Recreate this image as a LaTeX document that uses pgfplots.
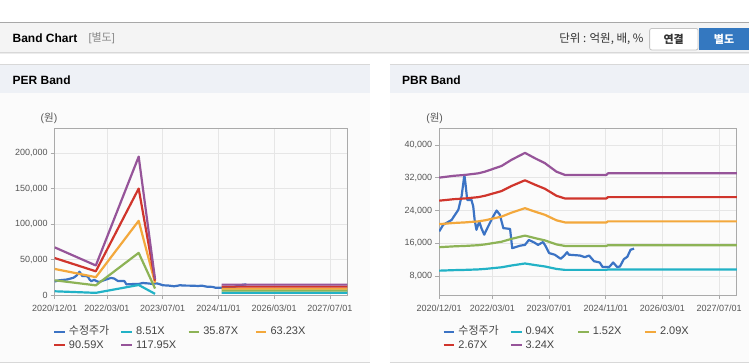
\documentclass[border=0pt]{standalone}
\usepackage{pgfplots}
\usepackage{pgfplotstable}
\pgfplotsset{compat=1.18}
\usepackage{fontspec}
\setmainfont{Liberation Sans}
\newfontfamily\kr{Noto Sans CJK KR}
\definecolor{cblue}{HTML}{3B73C4}
\definecolor{ccyan}{HTML}{22B2C6}
\definecolor{cgreen}{HTML}{8DB356}
\definecolor{corange}{HTML}{F3A83C}
\definecolor{cred}{HTML}{D0352C}
\definecolor{cpurple}{HTML}{965499}
\definecolor{gridc}{HTML}{E6E6E6}
\definecolor{axisc}{HTML}{AAAAAA}
\definecolor{tickt}{HTML}{555555}
\definecolor{legt}{HTML}{444444}
\definecolor{hdrbg}{HTML}{F4F4F4}
\definecolor{hdrline}{HTML}{A8A8A8}
\definecolor{lightline}{HTML}{D8D8D8}
\definecolor{barbg}{HTML}{EEF1F6}
\definecolor{panelbg}{HTML}{FBFBFB}
\definecolor{btnblue}{HTML}{3478C0}
\definecolor{btnborder}{HTML}{C4C4C4}
\definecolor{graytext}{HTML}{888888}
\definecolor{darktext}{HTML}{333333}

\pgfplotstableread{
m v
0 18900
1.1 20500
3.5 21700
5.4 24200
6.3 27400
7.1 32700
7.4 30700
7.9 26600
9.1 26600
9.6 25000
10 21700
10.5 19300
11.3 21300
11.9 19700
12.7 18100
13.8 20100
15.2 22500
16.2 24000
17.1 23000
18.1 19700
20 19500
20.6 14800
22.8 15400
24.2 15600
25.3 16800
26.8 16200
27.9 15600
29.3 16300
30.1 15200
31 13600
32.6 13200
34.3 12200
35.2 12900
36.1 13800
36.6 13200
39.7 13000
41.1 12600
42.3 13000
43.7 11600
45.3 11300
46.1 10200
48 10200
49.1 11300
50.2 10200
51 10300
52.1 12100
53.1 12700
54 14400
55 14700
}\stockdata

\pgfplotsset{
  bandaxis/.style={
    scale only axis, height=167bp,
    xmin=0, xmax=84,
    scaled y ticks=false, scaled x ticks=false,
    xtick={0,15,31,47,63,79},
    xticklabels={2020/12/01,2022/03/01,2023/07/01,2024/11/01,2026/03/01,2027/07/01},
    grid=major, grid style={gridc, line width=0.8bp},
    axis line style={axisc, line width=0.8bp},
    tick style={axisc, line width=0.8bp},
    tick align=outside, major tick length=4bp,
    xtick pos=lower, ytick pos=left,
    ticklabel style={font=\fontsize{9bp}{10bp}\selectfont, text=tickt, inner sep=0pt},
    xticklabel style={yshift=-5.5bp},
    yticklabel style={xshift=-3bp},
    unbounded coords=jump,
    every axis plot/.append style={line width=2.2bp, line join=round},
    legend columns=4,
    legend cell align=left,
    legend image code/.code={\draw[line width=2.2bp] (0bp,0bp) -- (10.6bp,0bp);},
    legend style={draw=none, fill=none, at={(axis description cs:0,0)}, anchor=north west,
      inner sep=0pt, outer sep=0pt, row sep=2.8bp, column sep=0pt,
      font=\fontsize{11bp}{12bp}\selectfont, text=legt,
      nodes={inner sep=0pt, outer sep=0pt, text height=8bp, text depth=2.5bp},
      /tikz/every odd column/.append style={column sep=3bp}},
  }
}
\newcommand{\legbox}[1]{\makebox[51.5bp][l]{#1}}

\begin{document}
\begin{tikzpicture}
\begin{scope}[x=1bp,y=-1bp,shift={(0,-364)}]
  \fill[white] (0,0) rectangle (749,364);
  % header
  \fill[hdrbg] (0,22.5) rectangle (749,52.5);
  \draw[hdrline, line width=1bp] (0,22.5) -- (749,22.5);
  \draw[lightline, line width=1bp] (0,52.5) -- (749,52.5);
  \draw[hdrbg!70!lightline, line width=1bp] (0,53.5) -- (749,53.5);
  \node[anchor=west, inner sep=0pt, font=\fontsize{12bp}{14bp}\selectfont\bfseries] at (12,38.5) {Band Chart};
  \node[anchor=west, inner sep=0pt, text=graytext, font=\fontsize{11bp}{13bp}\selectfont] at (88,38.5) {[{\kr 별도}]};
  \node[anchor=east, inner sep=0pt, text=darktext, font=\fontsize{11.5bp}{13bp}\selectfont] at (644,38.5) {{\kr 단위 : 억원, 배, \%}};
  \filldraw[fill=white, draw=btnborder, line width=0.8bp, rounded corners=2bp] (650,28.5) rectangle (698.5,50);
  \node[inner sep=0pt, text=darktext, font=\fontsize{11bp}{13bp}\selectfont] at (674,39.3) {{\kr\bfseries 연결}};
  \fill[btnblue] (699.5,28.5) rectangle (749,50);
  \node[inner sep=0pt, text=white, font=\fontsize{11bp}{13bp}\selectfont] at (724.5,39.3) {{\kr\bfseries 별도}};
  % PER panel
  \fill[barbg] (0,64.5) rectangle (370,93);
  \draw[lightline, line width=1bp] (0,64.5) -- (370,64.5);
  \fill[panelbg] (0,93) rectangle (370,362);
  \draw[lightline, line width=1bp] (0,362.5) -- (370,362.5);
  \node[anchor=west, inner sep=0pt, font=\fontsize{12bp}{14bp}\selectfont\bfseries] at (12,80) {PER Band};
  \node[inner sep=0pt, text=tickt, font=\fontsize{10.5bp}{12bp}\selectfont] at (48.5,118.3) {({\kr 원})};
  % PBR panel
  \fill[barbg] (390,64.5) rectangle (749,93);
  \draw[lightline, line width=1bp] (390,64.5) -- (749,64.5);
  \fill[panelbg] (390,93) rectangle (749,362);
  \draw[lightline, line width=1bp] (390,362.5) -- (749,362.5);
  \node[anchor=west, inner sep=0pt, font=\fontsize{12bp}{14bp}\selectfont\bfseries] at (402,80) {PBR Band};
  \node[inner sep=0pt, text=tickt, font=\fontsize{10.5bp}{12bp}\selectfont] at (434.7,118.3) {({\kr 원})};
\end{scope}

% ---------- PER Band ----------
\begin{axis}[bandaxis, at={(54.3bp,68.7bp)}, anchor=south west, width=293bp,
  ymin=0, ymax=235200,
  ytick={0,50000,100000,150000,200000},
  yticklabels={0,{50,000},{100,000},{150,000},{200,000}},
  legend style={xshift=-1.6bp, yshift=-32bp}]
\addplot[cblue] table[x=m,y=v] {\stockdata};
\addlegendentry{\legbox{\kr 수정주가}}
\addplot[ccyan] coordinates {(0,5100) (11.8,2900) (24.1,14000) (28.8,1500) (38,nan) (47.9,3000) (84,3000)};
\addlegendentry{\legbox{8.51X}}
\addplot[cgreen] coordinates {(0,20600) (11.8,13500) (24.1,59300) (28.8,9000) (38,nan) (47.9,6100) (84,6100)};
\addlegendentry{\legbox{35.87X}}
\addplot[corange] coordinates {(0,36600) (11.8,25000) (24.1,104500) (28.8,17000) (38,nan) (47.9,8900) (84,8900)};
\addlegendentry{\legbox{63.23X}}
\addplot[cred] coordinates {(0,52000) (11.8,33300) (24.1,150000) (28.8,20000) (38,nan) (47.9,11700) (84,11700)};
\addlegendentry{\legbox{90.59X}}
\addplot[cpurple] coordinates {(0,67000) (11.8,41500) (24.1,195000) (28.8,22000) (38,nan) (47.9,14500) (84,14500)};
\addlegendentry{\legbox{117.95X}}
\end{axis}

% ---------- PBR Band ----------
\begin{axis}[bandaxis, at={(439.3bp,68.7bp)}, anchor=south west, width=298bp,
  ymin=3370, ymax=44150,
  ytick={8000,16000,24000,32000,40000},
  yticklabels={{8,000},{16,000},{24,000},{32,000},{40,000}},
  legend style={xshift=3.4bp, yshift=-32bp}]
\addplot[cblue] table[x=m,y=v] {\stockdata};
\addlegendentry{\legbox{\kr 수정주가}}
\addplot[ccyan] coordinates {(0,9298) (4.2,9429) (7.2,9487) (11,9603) (12.9,9720) (17.6,10126) (20.4,10561) (24.2,11054) (27,10677) (29.8,10329) (33.1,9720) (35.5,9487) (47.2,9487) (47.6,9603) (84,9603)};
\addlegendentry{\legbox{0.94X}}
\addplot[cgreen] coordinates {(0,15036) (4.2,15247) (7.2,15341) (11,15528) (12.9,15717) (17.6,16373) (20.4,17077) (24.2,17874) (27,17264) (29.8,16702) (33.1,15717) (35.5,15341) (47.2,15341) (47.6,15528) (84,15528)};
\addlegendentry{\legbox{1.52X}}
\addplot[corange] coordinates {(0,20674) (4.2,20965) (7.2,21094) (11,21351) (12.9,21611) (17.6,22513) (20.4,23481) (24.2,24576) (27,23738) (29.8,22965) (33.1,21611) (35.5,21094) (47.2,21094) (47.6,21351) (84,21351)};
\addlegendentry{\legbox{2.09X}}
\addplot[cred] coordinates {(0,26412) (4.2,26783) (7.2,26948) (11,27277) (12.9,27608) (17.6,28761) (20.4,29997) (24.2,31397) (27,30326) (29.8,29338) (33.1,27608) (35.5,26948) (47.2,26948) (47.6,27277) (84,27277)};
\addlegendentry{\legbox{2.67X}}
\addplot[cpurple] coordinates {(0,32050) (4.2,32500) (7.2,32700) (11,33100) (12.9,33500) (17.6,34900) (20.4,36400) (24.2,38100) (27,36800) (29.8,35600) (33.1,33500) (35.5,32700) (47.2,32700) (47.6,33100) (84,33100)};
\addlegendentry{\legbox{3.24X}}
\end{axis}
\end{tikzpicture}
\end{document}
